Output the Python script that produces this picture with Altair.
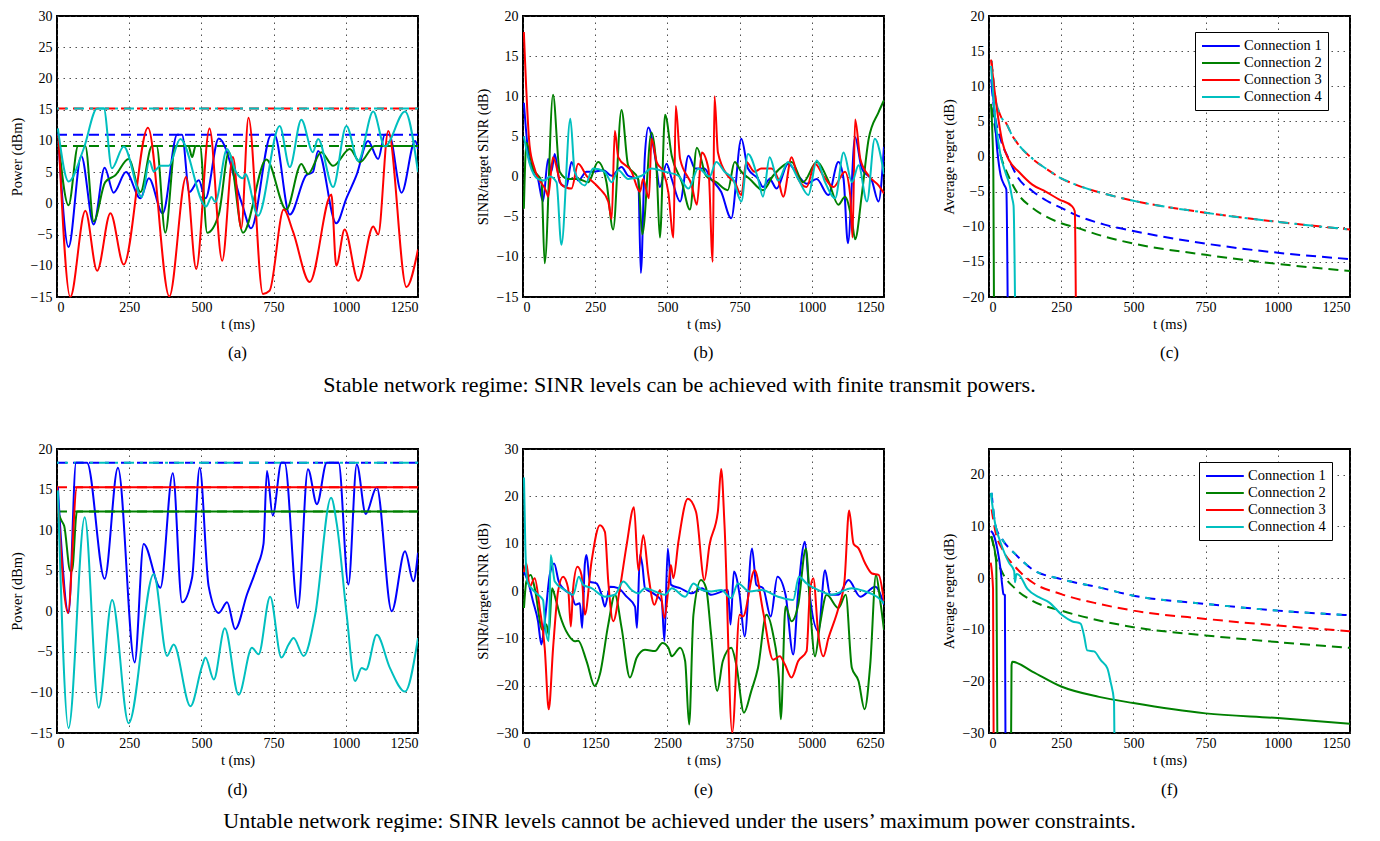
import altair as alt
import pandas as pd

FONT = "Liberation Serif"
CONNS = ["Connection 1", "Connection 2", "Connection 3", "Connection 4"]
COLORS = ["#0000ff", "#008000", "#ff0000", "#00bfbf"]

# ---------------- panel (a): power, stable ----------------
A1 = [(5,10),(40,-7),(84,7.6),(127,-3.4),(165,5.7),(196,1.7),(239,5),(289,0.8),(318,4),(366,-1.6),(416,11),(433,11),(458,1.8),(491,3.7),(514,0.8),(560,10.4),(640,0),(672,-4),(742,11),(753,11),(806,-1.8),(863,4.5),(886,5),(904,8.4),(967,-3.2),(1002,0.8),(1037,4.5),(1077,10),(1112,7.1),(1135,11),(1150,11),(1193,1.7),(1240,10),(1250,8.7)]
A2 = [(5,10),(40,-0.3),(73,9.2),(98,9.2),(127,-2.9),(167,3.4),(202,4.5),(248,7.1),(289,1.8),(329,9.2),(345,9.2),(375,-4.7),(410,9.2),(455,9.2),(468,7.4),(480,9.2),(495,9.2),(520,-4.7),(560,-1.8),(595,8.2),(644,-4.7),(725,7),(794,-1),(846,6.3),(869,4.7),(915,8.2),(956,6),(1014,8.7),(1049,6.6),(1100,9.2),(1250,9.2)]
A3 = [(5,11),(46,-15),(98,-1.2),(139,-10.8),(185,-1.6),(231,-9.8),(315,12.1),(389,-14.9),(447,4.2),(482,-10.5),(528,12),(572,-9.2),(609,7.4),(638,-4),(663,13.7),(713,-14.5),(736,-14),(785,-1),(817,-4.5),(875,-12.6),(950,1.4),(967,-10),(996,-4.2),(1043,-12.4),(1095,-3.7),(1112,-5),(1147,11.6),(1210,-13.4),(1250,-7.4)]
A4 = [(3,12),(40,3.5),(92,8.7),(139,15.2),(162,15.2),(190,5.6),(231,9.1),(294,1),(320,6.8),(335,5.1),(358,6),(387,6),(427,10.3),(516,-0.5),(535,1),(548,0.2),(589,8.7),(620,5),(644,4),(652,4.7),(696,-2),(771,12.4),(806,5.8),(846,13.4),(886,8.2),(904,10.3),(956,2.6),(1002,12.4),(1043,6.8),(1095,14.7),(1135,9.1),(1205,14.7),(1250,5)]
A_MAX = [11.0, 9.2, 15.2, 15.2]

# ---------------- panel (b): SINR, stable ----------------
B1 = [(3,9.2),(23,1.8),(52,-0.3),(69,-3.1),(87,2.2),(98,0.6),(110,2.8),(127,-0.7),(150,-1.3),(168,1.8),(191,-0.5),(220,0.6),(243,0.6),(278,0.8),(307,0.1),(341,1.2),(364,0.1),(399,-0.3),(408,-12),(422,2.6),(434,6.1),(457,2.6),(474,-1.3),(497,1.6),(515,-0.3),(544,-3.1),(573,2.6),(596,1),(628,1),(651,-0.3),(686,-1.9),(721,-5.2),(756,4.7),(779,1),(814,-0.3),(831,-1.3),(854,-0.3),(878,-1.5),(918,1.6),(953,0.1),(982,-0.9),(1017,-0.3),(1057,-2.3),(1092,1.8),(1110,-0.3),(1125,-8.3),(1150,4.9),(1173,1),(1208,-0.5),(1231,-3.1),(1250,3.7)]
B2 = [(3,-4),(12,4.2),(35,1),(64,-0.6),(75,-10.8),(104,10.2),(127,0.6),(156,-0.3),(191,-0.3),(226,-0.7),(260,1.8),(289,-0.7),(312,-6.6),(341,8.3),(364,1.4),(399,-0.3),(413,-7.2),(445,5.5),(463,0.6),(474,-7.6),(492,7.7),(515,2.6),(550,-0.7),(578,-4.1),(602,3.6),(634,0.1),(669,-0.7),(709,-1.7),(733,1.8),(756,0.6),(785,-0.3),(831,-1.7),(866,0.1),(930,1.8),(970,-0.7),(1017,1.8),(1057,-0.5),(1092,-3.5),(1115,-2.5),(1139,-5.5),(1150,-7.8),(1173,-2.3),(1197,4.7),(1231,8),(1250,9.5)]
B3 = [(3,18),(23,3.8),(40,1),(81,-1.9),(87,-2.5),(104,2.4),(133,-1),(168,-1.5),(191,1.6),(220,0.1),(260,-1.3),(295,-3.1),(307,-5.3),(318,5.7),(330,2.4),(376,0.6),(405,-1.9),(416,-0.3),(436,-2.7),(445,4.7),(463,1.8),(486,0.6),(503,-1.9),(521,-7.6),(529,8.8),(544,2.2),(584,-1.1),(602,-3.5),(619,3),(642,1),(657,-10.6),(663,10),(675,3),(709,0.1),(733,-0.7),(756,-2.3),(773,1.8),(802,0.6),(825,1),(860,1),(883,-0.3),(901,-2.5),(930,2.4),(953,-0.3),(982,-1.3),(1011,1.6),(1040,0.1),(1075,-1.3),(1115,0.6),(1133,-2.3),(1141,-7.6),(1150,7.1),(1168,2.2),(1197,0.1),(1231,-1.1),(1250,-2.1)]
B4 = [(3,5),(23,1.6),(52,-0.3),(75,-0.5),(93,0),(116,-0.7),(133,-8.5),(164,7.2),(179,0.6),(214,-1.1),(243,1),(283,0.6),(307,-0.7),(330,0.8),(364,-0.3),(411,0.1),(445,1),(492,0.6),(538,0.1),(573,-1.5),(607,1),(646,0),(669,1.8),(698,0.6),(727,-0.3),(756,-3.1),(779,2.8),(814,-0.3),(831,-2.5),(854,2.4),(883,-0.5),(918,1.8),(953,-0.3),(988,-2.3),(1017,2),(1046,-0.7),(1081,-2.7),(1110,3),(1139,-0.7),(1162,1.4),(1191,-3.1),(1218,4.7),(1250,0.3)]

# ---------------- panel (c): average regret, stable ----------------
C1 = [(7,11),(12,9.6),(29,0.7),(40,-2.6),(52,-4),(60,-4.7),(66,-28)]
C2 = [(7,7.5),(12,3),(15,-2),(18,-28)]
C3 = [(7,13.8),(29,6.3),(46,2.1),(69,-0.5),(104,-2.2),(150,-4),(196,-5),(242,-6.1),(288,-7.1),(297,-7.8),(302,-28)]
C4 = [(7,12.9),(23,4.9),(40,0.2),(58,-2.4),(71,-4),(80,-5.9),(85,-7),(92,-28)]
C_D1 = [(9,10),(20,6),(40,2.5),(70,-0.5),(100,-3),(150,-4.9),(200,-6.3),(250,-7.3),(300,-8.3),(400,-9.7),(500,-10.6),(750,-12.4),(1000,-13.7),(1250,-14.6)]
C_D2 = [(9,7),(35,1),(70,-3),(100,-5.3),(150,-7.3),(200,-8.6),(250,-9.5),(300,-10.1),(400,-11.4),(500,-12.4),(750,-14),(1000,-15.3),(1250,-16.3)]
C_D34 = [(9,13.6),(20,9),(40,5.8),(60,4.7),(80,3),(100,1.8),(150,-0.3),(200,-1.8),(250,-3.1),(300,-4),(400,-5.3),(500,-6.3),(750,-8),(1000,-9.3),(1250,-10.4)]

# ---------------- panel (d): power, unstable ----------------
D1 = [(3,15.3),(40,-0.2),(66,18.3),(104,18.3),(165,4),(211,17.7),(269,-6.3),(300,8.3),(358,2.9),(401,17),(433,1.1),(468,4.2),(494,17.7),(525,3.1),(560,-0.2),(589,1.1),(617,-2.2),(658,2.1),(692,5.4),(715,8.3),(727,17.3),(747,11.8),(777,18.3),(788,18.3),(834,0.4),(869,17.5),(900,13.2),(934,18.3),(975,18.3),(1009,3.3),(1038,18.1),(1069,12),(1107,15.3),(1159,0),(1205,7.4),(1234,3.7),(1250,7.2)]
D2 = [(3,12.3),(15,11.2),(25,10.5),(46,5),(52,5),(69,12.3),(1250,12.3)]
D3 = [(0,15.3),(38,-0.2),(69,15.3),(1250,15.3)]
D4 = [(3,14.9),(40,-14.4),(96,11.6),(144,-11.9),(191,1.4),(248,-13.8),(335,4.6),(381,-5.5),(404,-4.1),(462,-11.7),(502,-6.8),(514,-5.7),(543,-8.4),(581,-2.1),(629,-10.3),(675,-4.5),(698,-5.3),(738,1.8),(777,-5.7),(802,-4.1),(819,-3.3),(854,-5.5),(894,-0.4),(949,14),(969,10.7),(1003,-0.4),(1032,-8.6),(1055,-7),(1070,-7.2),(1107,-2.9),(1153,-7),(1205,-9.9),(1250,-3.3)]
D_MAX = [18.3, 12.3, 15.3, 18.3]

# ---------------- panel (e): SINR, unstable ----------------
E1 = [(17,4),(87,2),(174,-2.2),(260,-6.4),(318,-11.3),(376,-6.4),(463,3.4),(538,5.8),(619,2),(723,0.2),(839,-0.8),(909,-2.9),(984,-2.6),(1024,-7.8),(1071,5.8),(1100,7.6),(1157,2),(1273,1.6),(1360,-0.8),(1418,-3.3),(1505,0.9),(1649,0.6),(1794,-1.2),(1939,-3.3),(1973,-7.8),(2025,7.6),(2066,5.5),(2112,0.6),(2257,-0.5),(2402,-2.2),(2448,-10.6),(2506,9),(2564,1.3),(2720,0.6),(2922,-0.5),(3096,0.6),(3257,-0.8),(3547,0.2),(3593,-7.1),(3651,4.1),(3750,-0.8),(3837,-9.6),(3965,9),(4040,1.3),(4156,0.6),(4289,-5.4),(4405,3),(4545,-0.8),(4678,-13.4),(4765,-0.1),(4881,10.4),(4951,0.6),(5113,-8.5),(5229,4.4),(5316,-0.8),(5461,-0.8),(5635,2.3),(5838,-1.2),(6099,0.9),(6250,-2.9)]
E2 = [(17,-3.6),(58,2),(133,3.4),(203,0.6),(336,-8.2),(405,-7.1),(446,-9.2),(503,0.6),(561,-1.5),(637,-5),(781,-9.2),(897,-10.6),(955,-10.5),(1100,-14.8),(1244,-20.1),(1331,-17.6),(1476,-7.1),(1591,-0.8),(1707,-7.8),(1852,-18.3),(1968,-14.1),(2112,-12.4),(2286,-12.7),(2413,-11),(2517,-12),(2575,-13.8),(2720,-12),(2807,-14.8),(2876,-28.2),(2951,-5),(3083,2.3),(3170,0.6),(3257,-9.2),(3361,-21.1),(3460,-14.8),(3605,-12),(3692,-15.5),(3825,-25.7),(3953,-21.1),(4069,-16.2),(4214,-5),(4330,-9.2),(4429,-18.3),(4463,-27.1),(4545,-3.3),(4649,-6.4),(4765,-2.9),(4898,9),(4968,-2.9),(5055,-13.8),(5142,-7.1),(5258,-0.8),(5461,-3.6),(5588,-0.8),(5693,-16.2),(5809,-19),(5914,-25),(6012,-15.5),(6111,3.4),(6186,-2.2),(6250,-8.2)]
E3 = [(17,4),(58,5.8),(116,0.9),(203,2.7),(289,-3.6),(376,-12),(446,-25),(521,-12),(608,0),(694,3),(781,0.6),(828,-7.5),(868,0.6),(943,5.1),(1013,3.4),(1071,-5),(1186,6.2),(1331,13.9),(1418,12.5),(1476,2),(1562,-6.4),(1678,0.6),(1794,9.7),(1921,17.7),(1997,4.4),(2083,11.8),(2170,3.4),(2274,-2.9),(2373,0.2),(2448,-5.7),(2517,0.6),(2558,5.5),(2604,2.7),(2691,10.4),(2853,19.5),(2996,16.7),(3141,2.3),(3228,9.7),(3373,16.7),(3431,25.8),(3489,13.9),(3622,-29.9),(3750,-5),(3808,-5.4),(4011,4.4),(4156,-4.3),(4330,-14.5),(4446,-13.8),(4533,-15.5),(4649,-18.3),(4765,-14.8),(4910,-12.7),(4968,-0.1),(5026,2.7),(5113,-9.2),(5200,-13.8),(5287,-10),(5461,-3.6),(5565,2),(5646,17),(5722,10),(5809,9),(5925,5.8),(6041,3.7),(6157,3.4),(6250,-2.2)]
E4 = [(17,24),(41,9),(75,2),(145,0.6),(260,-0.8),(347,-1.9),(388,-7.8),(446,-10.6),(480,7.6),(550,2),(723,0.2),(868,-0.8),(966,3),(1042,1.3),(1186,0.6),(1418,-1.2),(1591,-0.8),(1736,2),(1881,0.2),(1997,-0.5),(2112,0.6),(2286,-0.1),(2460,-0.8),(2575,0.6),(2807,-1.2),(2951,1.6),(3096,0.2),(3257,-0.1),(3431,0.2),(3605,-1.5),(3721,1.6),(3924,-0.1),(4127,0.2),(4417,-1.2),(4678,-1.9),(4777,3),(4910,1.6),(5113,0.2),(5345,-0.8),(5693,0.6),(5925,-0.1),(6128,-1.2),(6250,-2.6)]

# ---------------- panel (f): average regret, unstable ----------------
F1 = [(6,9.1),(12,8.8),(29,5.6),(40,1.7),(46,-1.5),(50,-3.1),(55,-3.3),(58,-45)]
F2 = [(6,8.1),(17,6.2),(25,3),(31,-45),(75,-45),(78,-16.9),(81,-16.2),(150,-18.1),(250,-21),(381,-23),(500,-24.2),(750,-26.2),(1000,-27.1),(1250,-28.2)]
F3 = [(6,3),(14,-2.1),(17,-45)]
F4 = [(6,16.5),(23,10),(40,6.9),(69,3),(87,1.4),(90,-0.8),(95,0.8),(104,0.6),(133,-2.1),(173,-3.7),(208,-4.7),(254,-7.2),(289,-8.4),(317,-8.8),(329,-11.1),(340,-14),(364,-14.2),(387,-15.9),(410,-17.5),(421,-20.1),(433,-23.9),(437,-45)]
F_D14 = [(9,16.5),(23,10),(46,7.5),(92,4.6),(150,1.7),(250,-0.2),(381,-1.8),(500,-3.4),(750,-5),(1000,-6.3),(1250,-7.2)]
F_D3 = [(9,13.3),(23,8.8),(46,5.6),(92,2.1),(150,-0.8),(250,-3.1),(381,-5),(500,-6.3),(750,-7.9),(1000,-9.2),(1250,-10.3)]
F_D2 = [(9,8.1),(23,4.3),(46,1.1),(92,-2.1),(150,-4.4),(250,-6.3),(381,-8.2),(500,-9.5),(750,-11.1),(1000,-12.4),(1250,-13.5)]

T_TICKS = [0, 250, 500, 750, 1000, 1250]
T_TICKS_E = [0, 1250, 2500, 3750, 5000, 6250]
CAP1 = "Stable network regime: SINR levels can be achieved with finite transmit powers."
CAP2 = "Untable network regime: SINR levels cannot be achieved under the users\u2019 maximum power constraints."

W = 361
LW = 2


def long_df(series):
    rows = []
    for name, pts in zip(CONNS, series):
        for t, v in pts:
            rows.append({"t": t, "v": v, "conn": name})
    return pd.DataFrame(rows)


def panel(solid, dashed, xdom, xvals, ydom, yvals, ytitle, sub, height, suboff,
          legend=None, interp="monotone"):
    xe = alt.X("t:Q", scale=alt.Scale(domain=xdom, nice=False, zero=False),
               axis=alt.Axis(values=xvals, title="t (ms)", format="d",
                             labelFont=FONT, titleFont=FONT))
    ye = alt.Y("v:Q", scale=alt.Scale(domain=ydom, nice=False, zero=False),
               axis=alt.Axis(values=yvals, title=ytitle, format="d",
                             labelFont=FONT, titleFont=FONT))
    layers = []
    for pts, color, dash, off in dashed:
        df = pd.DataFrame(pts, columns=["t", "v"])
        layers.append(
            alt.Chart(df).mark_line(color=color, strokeDash=dash, strokeDashOffset=off,
                                    strokeWidth=LW, clip=True, interpolate=interp)
            .encode(x=xe, y=ye))
    layers.append(
        alt.Chart(long_df(solid)).mark_line(strokeWidth=LW, clip=True, interpolate=interp)
        .encode(x=xe, y=ye,
                color=alt.Color("conn:N", scale=alt.Scale(domain=CONNS, range=COLORS),
                                legend=legend)))
    return alt.layer(*layers).properties(
        width=W, height=height,
        title=alt.TitleParams(sub, orient="bottom", anchor="middle", frame="group",
                              font=FONT, fontSize=17, fontWeight="normal", color="black",
                              offset=suboff))


def flat(value, xmax):
    return [(0, value), (xmax, value)]


def make_legend(x, y):
    return alt.Legend(title=None, orient="none", legendX=x, legendY=y, direction="vertical",
                      symbolType="M-1,0H4.4", symbolSize=196, symbolStrokeWidth=2,
                      labelFont=FONT, labelFontSize=14.5, labelColor="black",
                      strokeColor="black", fillColor="white", padding=6,
                      rowPadding=2, labelOffset=27)


DASH = [10, 6]
H1, H2 = 281, 284
pa = panel([A1, A2, A3, A4],
           [(flat(A_MAX[0], 1250), COLORS[0], DASH, 0),
            (flat(A_MAX[1], 1250), COLORS[1], DASH, 0),
            (flat(A_MAX[2], 1250), COLORS[2], DASH, 0),
            (flat(A_MAX[3], 1250), COLORS[3], [10, 6, 3, 6], 8)],
           [0, 1250], T_TICKS, [-15, 30], list(range(-15, 31, 5)), "Power (dBm)", "(a)", H1, 14)
pb = panel([B1, B2, B3, B4], [], [0, 1250], T_TICKS, [-15, 20], list(range(-15, 21, 5)),
           "SINR/target SINR (dB)", "(b)", H1, 14)
pc = panel([C1, C2, C3, C4],
           [(C_D1, COLORS[0], DASH, 0), (C_D2, COLORS[1], DASH, 0),
            (C_D34, COLORS[2], DASH, 0), (C_D34, COLORS[3], [10, 6, 3, 6], 8)],
           [0, 1250], T_TICKS, [-20, 20], list(range(-20, 21, 5)), "Average regret (dB)", "(c)",
           H1, 14, legend=make_legend(206, 16))
pd_ = panel([D1, D2, D3, D4],
            [(flat(D_MAX[0], 1250), COLORS[0], DASH, 0),
             (flat(D_MAX[1], 1250), COLORS[1], DASH, 0),
             (flat(D_MAX[2], 1250), COLORS[2], DASH, 0),
             (flat(D_MAX[3], 1250), COLORS[3], [10, 6, 3, 6], 8)],
            [0, 1250], T_TICKS, [-15, 20], list(range(-15, 21, 5)), "Power (dBm)", "(d)", H2, 15)
pe = panel([E1, E2, E3, E4], [], [0, 6250], T_TICKS_E, [-30, 30], list(range(-30, 31, 10)),
           "SINR/target SINR (dB)", "(e)", H2, 15)
pf = panel([F1, F2, F3, F4],
           [(F_D2, COLORS[1], DASH, 0), (F_D3, COLORS[2], DASH, 0),
            (F_D14, COLORS[0], DASH, 0), (F_D14, COLORS[3], [5, 11], 0)],
           [0, 1250], T_TICKS, [-30, 25], list(range(-30, 21, 10)), "Average regret (dB)", "(f)",
           H2, 15, legend=make_legend(210, 13))


def row(charts, cap, off):
    return alt.hconcat(*charts, spacing=105, bounds="flush").properties(
        title=alt.TitleParams(cap, orient="bottom", anchor="middle", font=FONT, fontSize=22,
                              fontWeight="normal", color="black", offset=off)
    ).resolve_legend(color="independent")


chart = alt.vconcat(row([pa, pb, pc], CAP1, 13), row([pd_, pe, pf], CAP2, 12),
                    spacing=45).resolve_legend(color="independent").properties(
    padding=0).configure_axis(
    labelFont=FONT, titleFont=FONT, labelFontSize=14, titleFontSize=14.5,
    titleFontWeight="normal", labelColor="black", titleColor="black",
    grid=True, gridColor="#333333", gridDash=[1.5, 4.5], gridOpacity=0.85, gridWidth=1,
    domain=False, ticks=False, labelPadding=3, titlePadding=3
).configure_axisY(labelPadding=5, minExtent=26, maxExtent=26, titlePadding=7
).configure_view(stroke="black", strokeWidth=2)

chart.save("out.html", embed_options={"renderer": "svg", "actions": False})
